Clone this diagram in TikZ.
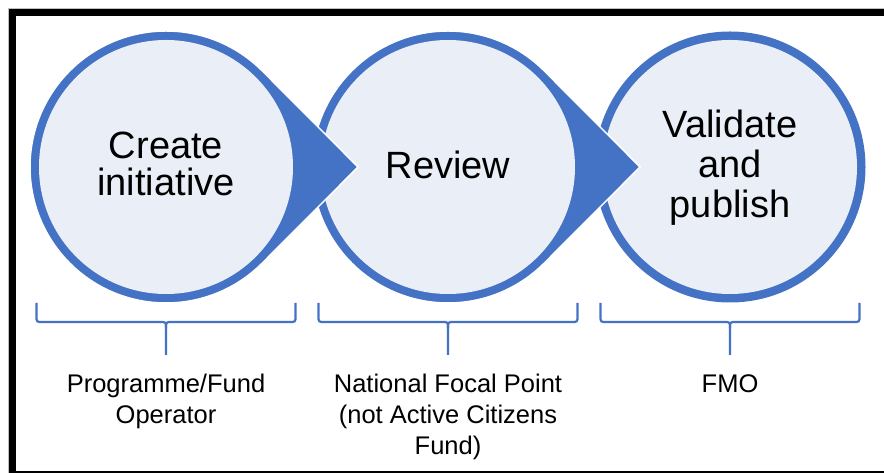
\documentclass[tikz,border=0pt]{standalone}
\usepackage{fontspec}
\setmainfont{Liberation Sans}
\definecolor{accent}{HTML}{4472C4}
\definecolor{lightfill}{HTML}{EAEFF7}
\begin{document}
\begin{tikzpicture}[x=1pt,y=1pt,
  hull/.style={fill=accent, draw=white, line width=1.5pt},
  innerdisk/.style={fill=lightfill},
  bracepath/.style={draw=accent, line width=2.2pt},
  big/.style={font=\fontsize{38}{40}\selectfont, inner sep=0pt, anchor=base},
  small/.style={font=\fontsize{25.5}{32}\selectfont, inner sep=0pt, anchor=base}]
\useasboundingbox (0,0) rectangle (884,473);
\clip (0,0) rectangle (884,473);
\fill[white] (0,0) rectangle (884,473);
\coordinate (c1) at (166,306);
\coordinate (c2) at (448,306);
\coordinate (c3) at (730,306);
% circle 3
\fill[accent] (c3) circle[radius=135.5];
\fill[innerdisk] (c3) circle[radius=127];
% circle 2 with arrow
\filldraw[hull] ([shift={(192,0)}]c2) -- ([shift={(45:136)}]c2) arc[start angle=45,end angle=315,radius=136] -- cycle;
\fill[innerdisk] (c2) circle[radius=127];
% circle 1 with arrow
\filldraw[hull] ([shift={(192,0)}]c1) -- ([shift={(45:136)}]c1) arc[start angle=45,end angle=315,radius=136] -- cycle;
\fill[innerdisk] (c1) circle[radius=127];
% braces
\foreach \cx in {166,448,730}{
  \draw[bracepath, line join=round] (\cx-129.5,170) -- (\cx-129.5,157) .. controls (\cx-129.5,151) .. (\cx-123.5,151) -- (\cx-6,151) .. controls (\cx,151) .. (\cx,145) -- (\cx,118);
  \draw[bracepath, line join=round] (\cx+129.5,170) -- (\cx+129.5,157) .. controls (\cx+129.5,151) .. (\cx+123.5,151) -- (\cx+6,151) .. controls (\cx,151) .. (\cx,145);
}
% circle texts
\node[big] (t1a) at (166,314) {Create};
\node[big] (t1b) at (166,277) {initiative};
\node[big] (t2) at (448,294) {Review};
\node[big] (t3a) at (730,335) {Validate};
\node[big] (t3b) at (730,295) {and};
\node[big] (t3c) at (730,255) {publish};
% labels
\node[small] (l1a) at (166,80) {Programme/Fund};
\node[small] (l1b) at (166,49) {Operator};
\node[small] (l2a) at (448,80) {National Focal Point};
\node[small] (l2b) at (448,49) {(not Active Citizens};
\node[small] (l2c) at (448,18) {Fund)};
\node[small] (l3) at (730,80) {FMO};
% frame
\draw[gray!50, line width=1pt] (8.5,-10) rectangle (900,464.5);
\draw[black, line width=7pt] (12.5,-1.5) rectangle (888,460.5);
\end{tikzpicture}
\end{document}
